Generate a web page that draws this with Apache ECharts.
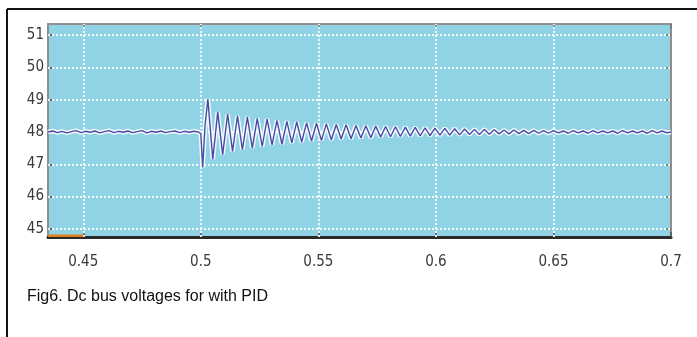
<!DOCTYPE html>
<html><head><meta charset="utf-8">
<script src="https://cdn.jsdelivr.net/npm/echarts@6/dist/echarts.min.js"></script>
<style>html,body{margin:0;padding:0;background:#fff}#c{width:697px;height:337px}</style>
</head><body><div id="c"></div>
<script>
const captionText = 'Fig6. Dc bus voltages for with PID';
const xTicks = [0.45, 0.5, 0.55, 0.6, 0.65, 0.7];
const yTicks = [45, 46, 47, 48, 49, 50, 51];
const timeS = [
0.435,0.437,0.439,0.441,0.443,0.445,0.447,0.449,0.451,0.453,0.455,0.457,0.459,0.461,0.463,0.465,0.467,0.469,0.471,0.473,0.475,0.477,0.479,0.481,0.483,0.485,0.487,0.489,0.491,0.493,0.495,0.497,0.499,
0.5000,0.5008,0.5018,
0.5030,0.5051,0.5072,0.5093,0.5114,0.5135,0.5156,0.5177,0.5198,0.5219,0.5240,0.5261,0.5282,0.5303,0.5324,0.5345,0.5366,0.5387,0.5408,0.5429,0.5450,0.5471,0.5492,0.5513,0.5534,0.5555,0.5576,0.5597,0.5618,0.5639,0.5660,0.5681,0.5702,0.5723,0.5744,0.5765,0.5786,0.5807,0.5828,0.5849,0.5870,0.5891,0.5912,0.5933,0.5954,0.5975,0.5996,0.6017,0.6038,0.6059,0.6080,0.6101,0.6122,0.6143,0.6164,0.6185,0.6206,0.6227,0.6248,0.6269,0.6290,0.6311,0.6332,0.6353,0.6374,0.6395,0.6416,0.6437,0.6458,0.6479,0.6500,0.6521,0.6542,0.6563,0.6584,0.6605,0.6626,0.6647,0.6668,0.6689,0.6710,0.6731,0.6752,0.6773,0.6794,0.6815,0.6836,0.6857,0.6878,0.6899,0.6920,0.6941,0.6962,0.6983,0.7000
];
const busV = [
48.00,48.03,47.98,48.02,47.97,48.01,48.04,47.98,48.02,47.99,48.03,47.97,48.01,48.04,47.98,48.02,47.99,48.03,47.98,48.01,48.04,47.97,48.02,47.99,48.03,47.98,48.01,48.03,47.98,48.02,47.99,48.02,48.00,
47.95,46.90,48.20,
49.02,47.15,48.62,47.30,48.55,47.40,48.50,47.45,48.46,47.50,48.42,47.55,48.40,47.60,48.36,47.62,48.33,47.66,48.31,47.69,48.28,47.72,48.27,47.74,48.25,47.76,48.23,47.78,48.22,47.79,48.20,47.81,48.19,47.82,48.18,47.84,48.17,47.85,48.16,47.86,48.15,47.87,48.14,47.88,48.13,47.89,48.12,47.90,48.11,47.90,48.10,47.91,48.09,47.92,48.08,47.92,48.08,47.93,48.07,47.94,48.06,47.94,48.06,47.95,48.05,47.95,48.05,47.96,48.04,47.96,48.04,47.97,48.03,47.96,48.04,47.97,48.03,47.96,48.04,47.97,48.03,47.97,48.03,47.96,48.04,47.97,48.03,47.97,48.03,47.96,48.04,47.97,48.03,47.97,48.00
];
const orangeT = [0.435, 0.45];
const orangeV = [44.79, 44.79];

const busData = timeS.map((t, i) => [t, busV[i]]);
const orangeData = orangeT.map((t, i) => [t, orangeV[i]]);

const chart = echarts.init(document.getElementById('c'), null, {renderer: 'canvas'});
const gridLineStyle = {color: 'rgba(255,255,255,0.9)', width: 2, type: [2, 2]};
const labelFont = {fontFamily: "'Liberation Sans Narrow','DejaVu Sans Condensed','Liberation Sans',sans-serif", fontSize: 15, color: '#3a3a3a'};
chart.setOption({
  animation: false,
  backgroundColor: '#ffffff',
  title: {
    text: captionText, left: 27, top: 289, padding: 0,
    textStyle: {fontFamily: "'Liberation Sans',Arial,sans-serif", fontSize: 16, fontWeight: 'normal', color: '#111'}
  },
  graphic: [
    {type: 'line', shape: {x1: 7, y1: 9, x2: 697, y2: 9}, style: {stroke: '#111', lineWidth: 2}},
    {type: 'line', shape: {x1: 7, y1: 9, x2: 7, y2: 337}, style: {stroke: '#111', lineWidth: 2}}
  ],
  grid: {left: 48, right: 26, top: 24, bottom: 100, show: true, backgroundColor: '#90d3e5', borderWidth: 0},
  xAxis: [
    {type: 'value', min: 0.435, max: 0.7, position: 'bottom',
     axisLine: {show: true, lineStyle: {color: '#2a2a2a', width: 3}},
     axisTick: {show: true, inside: true, length: 5, customValues: xTicks, lineStyle: {color: '#555', width: 1.5}},
     axisLabel: Object.assign({customValues: xTicks, margin: 18, formatter: v => String(v)}, labelFont),
     splitLine: {show: false}},
    {type: 'value', min: 0.435, max: 0.7, position: 'top',
     axisLine: {show: true, lineStyle: {color: '#8f8f8f', width: 2}},
     axisTick: {show: true, inside: true, length: 5, customValues: xTicks, lineStyle: {color: '#777', width: 1.5}},
     axisLabel: {show: false}, splitLine: {show: false}}
  ],
  yAxis: [
    {type: 'value', min: 44.75, max: 51.34, position: 'left',
     axisLine: {show: true, lineStyle: {color: '#8f8f8f', width: 2}},
     axisTick: {show: true, inside: true, length: 5, customValues: yTicks, lineStyle: {color: '#444', width: 1.5}},
     axisLabel: Object.assign({customValues: yTicks, margin: 4}, labelFont),
     splitLine: {show: false}},
    {type: 'value', min: 44.75, max: 51.34, position: 'right',
     axisLine: {show: true, lineStyle: {color: '#8f8f8f', width: 2}},
     axisTick: {show: true, inside: true, length: 5, customValues: yTicks, lineStyle: {color: '#666', width: 1.5}},
     axisLabel: {show: false}, splitLine: {show: false}}
  ],
  series: [
    {type: 'line', name: 'halo', data: busData, showSymbol: false, silent: true, z: 3,
     lineStyle: {color: 'rgba(255,255,255,0.85)', width: 4.5},
     markLine: {silent: true, symbol: 'none', label: {show: false}, lineStyle: gridLineStyle, z: 2,
       data: yTicks.map(v => ({yAxis: v})).concat(xTicks.slice(0, 5).map(v => ({xAxis: v})))}},
    {type: 'line', name: 'Vdc', data: busData, showSymbol: false, z: 4,
     lineStyle: {color: '#4a4aa6', width: 1.4}},
    {type: 'line', name: 'ref', data: orangeData, showSymbol: false, z: 4,
     lineStyle: {color: '#e0801e', width: 2.5}}
  ]
});
</script></body></html>
